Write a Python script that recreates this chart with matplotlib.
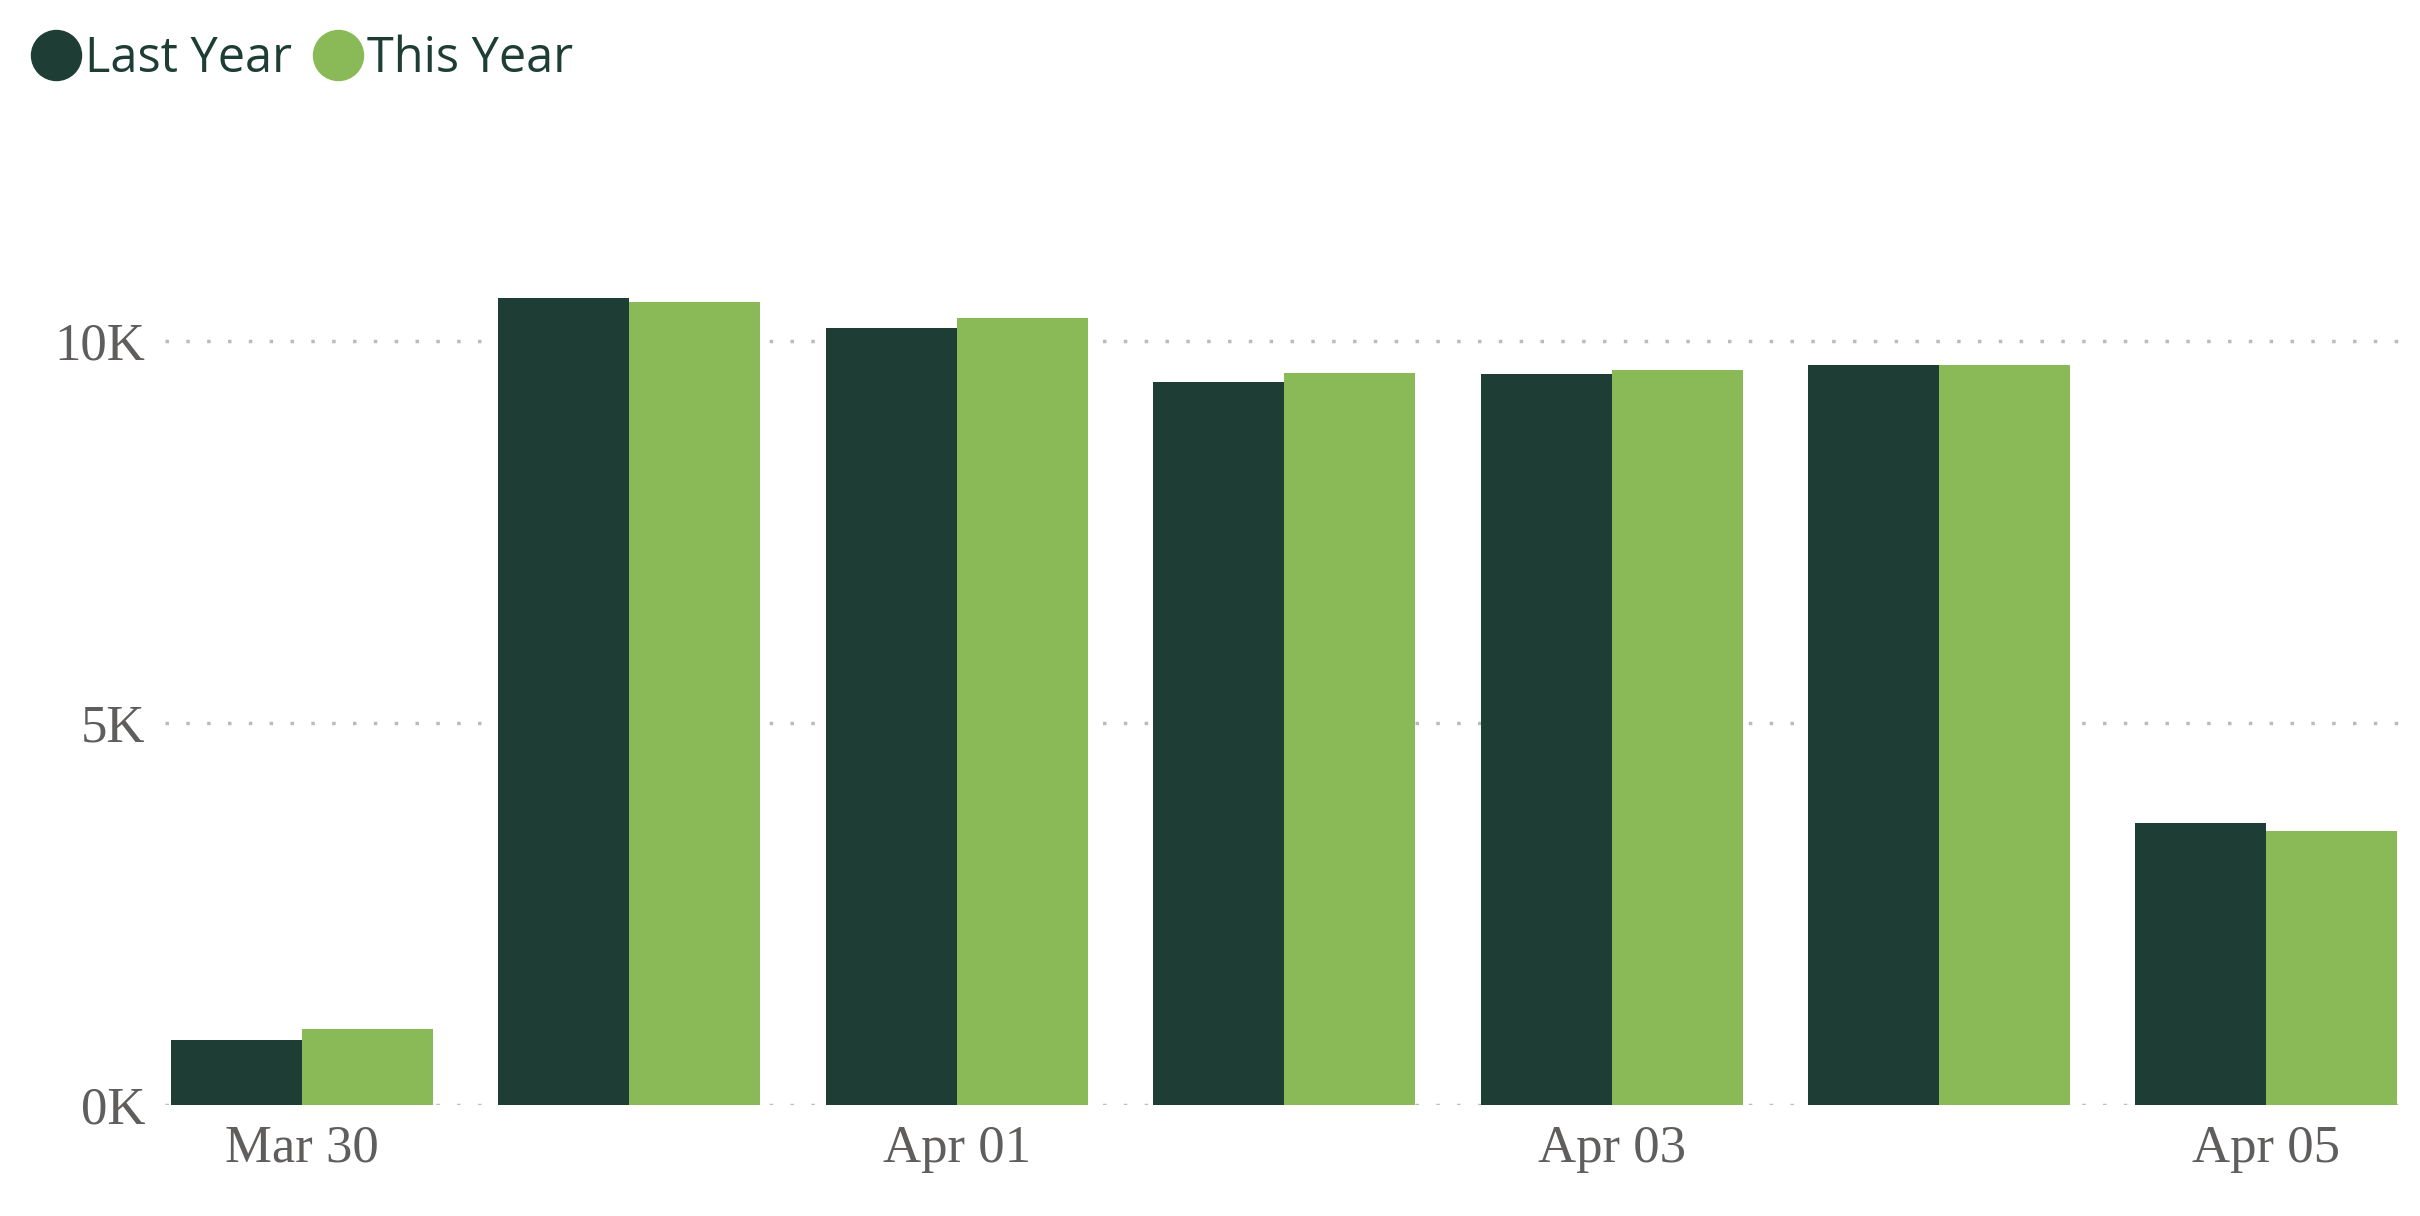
import matplotlib
matplotlib.use('Agg')
import matplotlib.pyplot as plt
import numpy as np

dates = ['Mar 30', 'Mar 31', 'Apr 01', 'Apr 02', 'Apr 03', 'Apr 04', 'Apr 05']
last_year = [860, 10570, 10180, 9470, 9570, 9690, 3690]
this_year = [1000, 10510, 10310, 9590, 9630, 9690, 3590]
yticks = [0, 5000, 10000]
ytick_labels = ['0K', '5K', '10K']

dark = '#1E3D35'
light = '#8ABA57'

fig = plt.figure(figsize=(24.2, 12.16), dpi=100)
ax = fig.add_axes([0.068, 0.091, 0.924, 0.71])

x = np.arange(len(dates))
w = 0.4
ax.bar(x - w / 2, last_year, w, color=dark, label='Last Year', zorder=3)
ax.bar(x + w / 2, this_year, w, color=light, label='This Year', zorder=3)

for y in yticks:
    ax.axhline(y, color='#BBBBBB', linestyle=(0, (1, 5)), linewidth=2.5, zorder=1)

ax.set_xlim(-0.42, 6.41)
ax.set_ylim(0, 11300)
ax.set_yticks(yticks, ytick_labels)
ax.set_xticks(x[::2], [dates[i] for i in range(0, len(dates), 2)])
ax.tick_params(length=0, labelsize=38, labelcolor='#605E5C', pad=14)
for lab in ax.get_xticklabels() + ax.get_yticklabels():
    lab.set_family('Liberation Serif')
for s in ax.spines.values():
    s.set_visible(False)

fig.legend(loc='upper left', bbox_to_anchor=(0.0, 1.0), ncol=2, frameon=False,
           prop={'family': 'Open Sans', 'size': 35}, labelcolor=dark,
           handlelength=0.8, handleheight=0.8, handletextpad=0.2, columnspacing=0.6,
           borderaxespad=0.3)
leg = fig.legends[0]
from matplotlib.lines import Line2D
leg_handles = [Line2D([], [], marker='o', color=c, linestyle='', markersize=36) for c in (dark, light)]
fig.legends.clear()
fig.legend(leg_handles, ['Last Year', 'This Year'], loc='upper left', bbox_to_anchor=(0.0, 1.0),
           ncol=2, frameon=False, prop={'family': 'Open Sans', 'size': 35}, labelcolor=dark,
           handlelength=0.9, handletextpad=0.15, columnspacing=0.5, borderaxespad=0.3)

plt.savefig('out.png', dpi=100)
